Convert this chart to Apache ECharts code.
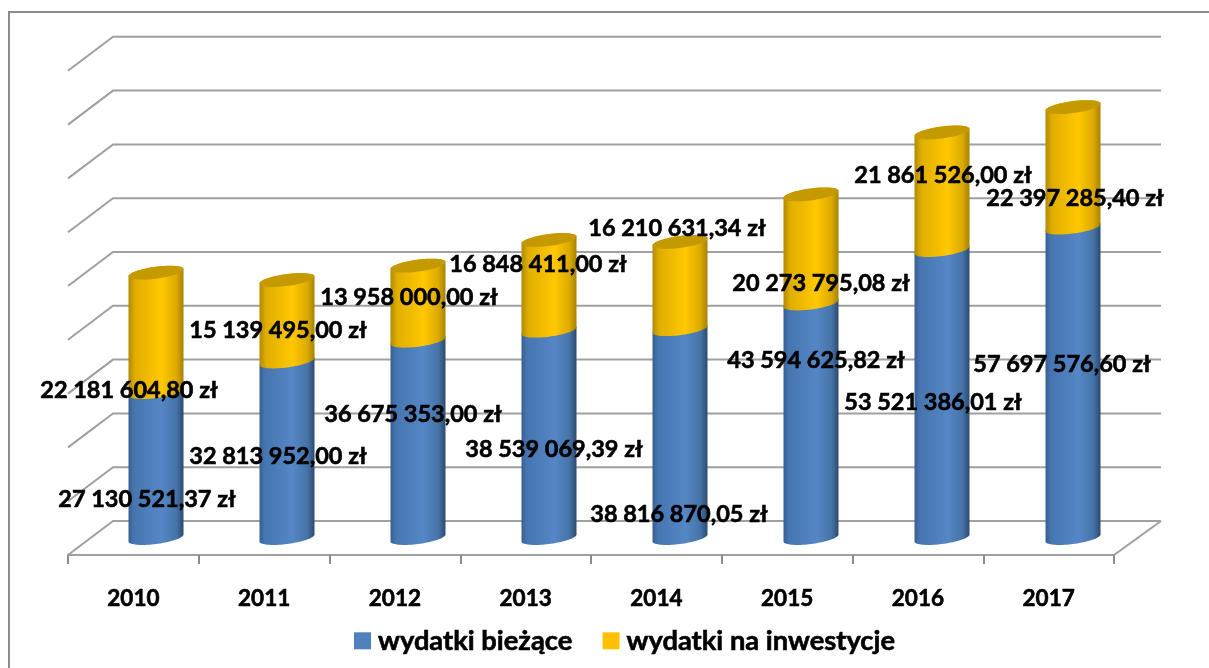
<!DOCTYPE html>
<html>
<head>
<meta charset="utf-8">
<title>wydatki</title>
<script src="https://cdn.jsdelivr.net/npm/echarts@6/dist/echarts.min.js"></script>
<style>
html, body { margin: 0; padding: 0; background: #fff; }
#chart { width: 1209px; height: 668px; }
</style>
</head>
<body>
<div id="chart"></div>
<script>
var years = ['2010', '2011', '2012', '2013', '2014', '2015', '2016', '2017'];
var biezace = [27130521.37, 32813952.00, 36675353.00, 38539069.39, 38816870.05, 43594625.82, 53521386.01, 57697576.60];
var inwestycje = [22181604.80, 15139495.00, 13958000.00, 16848411.00, 16210631.34, 20273795.08, 21861526.00, 22397285.40];
var yTicks = [0, 10000000, 20000000, 30000000, 40000000, 50000000, 60000000, 70000000, 80000000, 90000000];

// przesuniecia etykiet wzgledem srodka segmentu
var biezaceOffsets = [[-9, 34], [-9, 7], [-5, -25], [5, 15], [-1, 81], [5, -60], [-9, 8], [-11, -18]];
var inwestycjeOffsets = [[-27, 58], [-9, 10], [-9, -6], [-11, -21], [-3, -57], [10, 34], [1, -16], [2, 31]];

var FONT = 'Lato';
var DEPTH_X = 22.5, DEPTH_Y = 17;
var RX = 27.5, RY = 6, SKEW = 3.5;
var FRONT_LEFT = 68, FRONT_WIDTH = 1046;

function money(v) {
    var parts = v.toFixed(2).split('.');
    return parts[0].replace(/\B(?=(\d{3})+(?!\d))/g, ' ') + ',' + parts[1] + ' zł';
}

// pkt na elipsie podstawy (lekko pochylonej)
function rim(cx, cy, t) {
    return [cx + RX * Math.cos(t), cy + RY * Math.sin(t) - SKEW * Math.cos(t)];
}

function cylinderSeries(name, values, starts, sideStops, legendColor, capColor) {
    return {
        name: name,
        type: 'custom',
        xAxisIndex: 0,
        yAxisIndex: 0,
        z: capColor ? 4 : 3,
        itemStyle: { color: legendColor },
        data: values.map(function (v, i) { return [i, starts[i], starts[i] + v, v]; }),
        encode: { x: 0, y: [1, 2] },
        renderItem: function (params, api) {
            var i = api.value(0);
            var bottom = api.coord([i, api.value(1)]);
            var top = api.coord([i, api.value(2)]);
            var cx = bottom[0];
            var pts = [];
            var k;
            // dolny luk od prawej do lewej, potem gorny z powrotem
            for (k = 0; k <= 40; k++) pts.push(rim(cx, bottom[1], Math.PI * k / 40));
            for (k = 0; k <= 40; k++) pts.push(rim(cx, top[1], Math.PI + Math.PI * k / 40));
            var children = [{
                type: 'polygon',
                shape: { points: pts },
                style: { fill: new echarts.graphic.LinearGradient(0, 0, 1, 0, sideStops) }
            }];
            if (capColor) {
                var cap = [];
                for (k = 0; k < 60; k++) cap.push(rim(cx, top[1], 2 * Math.PI * k / 60));
                children.push({ type: 'polygon', shape: { points: cap }, style: { fill: capColor } });
            }
            return { type: 'group', children: children };
        }
    };
}

function labelSeries(name, values, starts, offsets) {
    // etykiety osobno, zeby byly nad wszystkimi walcami
    return {
        name: name + ' etykiety',
        type: 'custom',
        xAxisIndex: 0,
        yAxisIndex: 0,
        z: 6,
        silent: true,
        data: values.map(function (v, i) { return [i, starts[i] + v / 2, v]; }),
        encode: { x: 0, y: 1 },
        renderItem: function (params, api) {
            var i = api.value(0);
            var p = api.coord([i, api.value(1)]);
            return {
                type: 'text',
                x: p[0] + offsets[i][0],
                y: p[1] + offsets[i][1],
                style: {
                    text: money(api.value(2)),
                    font: 'bold 23.5px ' + FONT,
                    fill: '#000',
                    stroke: '#000',
                    lineWidth: 0.6,
                    align: 'center',
                    verticalAlign: 'middle'
                }
            };
        }
    };
}

var chart = echarts.init(document.getElementById('chart'));
var zeros = years.map(function () { return 0; });

var blueStops = [
    { offset: 0, color: '#375f92' },
    { offset: 0.1, color: '#4676b0' },
    { offset: 0.6, color: '#5586c6' },
    { offset: 0.87, color: '#4674a8' },
    { offset: 1, color: '#2c4a70' }
];
var yellowStops = [
    { offset: 0, color: '#b08a00' },
    { offset: 0.12, color: '#e0ae00' },
    { offset: 0.6, color: '#ffc800' },
    { offset: 0.87, color: '#dcaa00' },
    { offset: 1, color: '#a58200' }
];

chart.setOption({
    backgroundColor: '#fff',
    animation: false,
    graphic: [{
        type: 'rect',
        shape: { x: 9, y: 12, width: 1400, height: 800 },
        style: { fill: 'none', stroke: '#8c8c8c', lineWidth: 2 },
        silent: true
    }],
    legend: {
        data: ['wydatki bieżące', 'wydatki na inwestycje'],
        left: 349,
        top: 622,
        itemWidth: 17,
        itemHeight: 17,
        itemGap: 30,
        icon: 'rect',
        textStyle: {
            fontFamily: FONT, fontWeight: 'bold', fontSize: 27.3, color: '#000',
            padding: [0, 0, 0, 2], textBorderColor: '#000', textBorderWidth: 0.6
        }
    },
    // grid[0] = plaszczyzna w ktorej stoja walce, grid[1] = przednia krawedz podlogi z osia
    grid: [
        { left: 90.5, width: 1048, top: 53.8, height: 484.2 },
        { left: FRONT_LEFT, width: FRONT_WIDTH, top: 70.8, height: 484.2 }
    ],
    xAxis: [
        { gridIndex: 0, type: 'category', data: years, show: false },
        {
            gridIndex: 1,
            type: 'category',
            data: years,
            axisLine: { lineStyle: { color: '#a0a0a0', width: 2 } },
            axisTick: { show: true, length: 9, lineStyle: { color: '#8c8c8c', width: 2 } },
            axisLabel: {
                color: '#000', fontFamily: FONT, fontWeight: 'bold', fontSize: 22.5, margin: 32,
                textBorderColor: '#000', textBorderWidth: 0.6
            }
        }
    ],
    yAxis: [
        { gridIndex: 0, type: 'value', min: 0, max: 90000000, interval: 10000000, show: false },
        { gridIndex: 1, type: 'value', min: 0, max: 90000000, interval: 10000000, show: false }
    ],
    series: [
        {
            // siatka 3D: skos po lewej i linia na tylnej scianie, liczone z osi Y
            name: 'siatka',
            type: 'custom',
            xAxisIndex: 0,
            yAxisIndex: 0,
            z: 1,
            silent: true,
            data: yTicks.map(function (t) { return [0, t]; }),
            encode: { y: 1 },
            renderItem: function (params, api) {
                var y = api.coord([0, api.value(1)])[1];
                var g = params.coordSys;
                var backLeft = g.x + DEPTH_X;
                var backRight = g.x + g.width + DEPTH_X;
                var children = [{
                    type: 'polyline',
                    shape: { points: [[g.x - DEPTH_X, y + DEPTH_Y], [backLeft, y - DEPTH_Y], [backRight, y - DEPTH_Y]] },
                    style: { fill: 'none', stroke: '#a0a0a0', lineWidth: 2 }
                }];
                if (api.value(1) === 0) {
                    // prawa krawedz podlogi
                    children.push({
                        type: 'line',
                        shape: { x1: backRight, y1: y - DEPTH_Y, x2: FRONT_LEFT + FRONT_WIDTH, y2: y + DEPTH_Y },
                        style: { stroke: '#a0a0a0', lineWidth: 2 }
                    });
                }
                return { type: 'group', children: children };
            }
        },
        cylinderSeries('wydatki bieżące', biezace, zeros, blueStops, '#4f81bd', null),
        cylinderSeries('wydatki na inwestycje', inwestycje, biezace, yellowStops, '#ffc000', '#c49a00'),
        labelSeries('wydatki bieżące', biezace, zeros, biezaceOffsets),
        labelSeries('wydatki na inwestycje', inwestycje, biezace, inwestycjeOffsets)
    ]
});
</script>
</body>
</html>
